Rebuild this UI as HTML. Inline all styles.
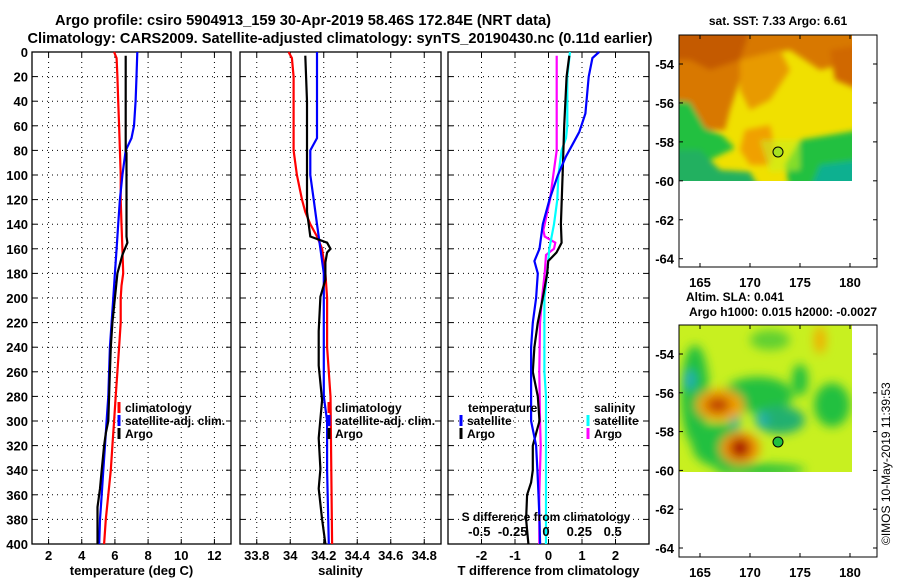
<!DOCTYPE html>
<html><head><meta charset="utf-8"><style>
body{margin:0;background:#fff}
svg{display:block;font-family:"Liberation Sans",sans-serif;font-weight:bold}
</style></head><body>
<svg id="fig" width="900" height="580" viewBox="0 0 900 580">
<defs>
<filter id="blur" x="-20%" y="-20%" width="140%" height="140%"><feGaussianBlur stdDeviation="5"/></filter>
<filter id="blur2" x="-20%" y="-20%" width="140%" height="140%"><feGaussianBlur stdDeviation="3"/></filter>
<clipPath id="c1"><rect x="679" y="35" width="173" height="146"/></clipPath>
<clipPath id="c2"><rect x="679" y="325" width="173" height="147"/></clipPath>
</defs>
<text x="303" y="25" text-anchor="middle" font-size="15" textLength="496" lengthAdjust="spacingAndGlyphs">Argo profile: csiro 5904913_159 30-Apr-2019 58.46S 172.84E (NRT data)</text>
<text x="340" y="43" text-anchor="middle" font-size="15" textLength="625" lengthAdjust="spacingAndGlyphs">Climatology: CARS2009. Satellite-adjusted climatology: synTS_20190430.nc (0.11d earlier)</text>
<g id="plots"></g>

<g>
<text x="778" y="25" text-anchor="middle" font-size="12">sat. SST: 7.33 Argo: 6.61</text>
<g clip-path="url(#c1)">
<rect x="679" y="35" width="173" height="146" fill="#f0e000"/>
<g filter="url(#blur2)">
<polygon points="670,30 860,30 860,60 820,70 790,50 760,55 740,80 730,110 725,130 700,130 690,110 670,100" fill="#d87800"/>
<polygon points="670,30 750,30 740,60 710,70 690,60 670,60" fill="#c45a00"/>
<polygon points="830,50 860,45 860,90 835,80" fill="#d06800"/>
<polygon points="740,60 780,50 790,70 770,100 750,110 740,90" fill="#e89a00"/>
<polygon points="670,100 690,102 705,128 722,135 735,148 710,160 700,190 670,190" fill="#20c040"/>
<polygon points="670,150 700,150 720,170 750,172 760,190 670,190" fill="#20b060"/>
<polygon points="800,140 830,135 860,130 860,190 790,190 785,165" fill="#20c040"/>
<polygon points="820,165 860,160 860,190 810,190" fill="#10b090"/>
<polygon points="745,130 770,125 775,150 770,165 750,165 740,150" fill="#f0a000"/>
<polygon points="760,140 800,140 800,170 770,172" fill="#c8f020" opacity="0.6"/>
</g></g>
<circle cx="778" cy="152" r="5" fill="#a8e020" stroke="#000" stroke-width="1"/>
<rect x="679" y="35" width="198" height="232" fill="none" stroke="#000"/>
<g id="map1axes"></g>
</g>

<g>
<text x="735" y="301" text-anchor="middle" font-size="12">Altim. SLA: 0.041</text>
<text x="783" y="316" text-anchor="middle" font-size="12">Argo h1000: 0.015 h2000: -0.0027</text>
<g clip-path="url(#c2)">
<rect x="679" y="325" width="173" height="147" fill="#c8f020"/>
<g filter="url(#blur)">
<ellipse cx="695" cy="395" rx="14" ry="50" fill="#20c040"/>
<ellipse cx="690" cy="380" rx="5" ry="10" fill="#20a8c0"/>
<ellipse cx="720" cy="445" rx="28" ry="22" fill="#20c040"/>
<ellipse cx="758" cy="395" rx="35" ry="18" fill="#20c040"/>
<ellipse cx="780" cy="420" rx="25" ry="14" fill="#20b070"/>
<ellipse cx="762" cy="420" rx="6" ry="8" fill="#20b0b0"/>
<ellipse cx="735" cy="420" rx="5" ry="8" fill="#20b0a0"/>
<ellipse cx="800" cy="380" rx="8" ry="16" fill="#20c040"/>
<ellipse cx="832" cy="405" rx="18" ry="22" fill="#20c040"/>
<ellipse cx="770" cy="340" rx="20" ry="10" fill="#60d030"/>
<ellipse cx="760" cy="470" rx="45" ry="6" fill="#20c040"/>
<ellipse cx="720" cy="405" rx="24" ry="16" fill="#f0a000"/>
<ellipse cx="718" cy="405" rx="12" ry="8" fill="#c04000"/>
<ellipse cx="740" cy="448" rx="20" ry="16" fill="#f09000"/>
<ellipse cx="740" cy="448" rx="10" ry="10" fill="#a81000"/>
<ellipse cx="820" cy="340" rx="6" ry="14" fill="#f0b000"/>
</g></g>
<circle cx="778" cy="442" r="5" fill="#20c040" stroke="#000" stroke-width="1"/>
<rect x="679" y="325" width="198" height="232" fill="none" stroke="#000"/>
<g id="map2axes"></g>
</g>
<text x="0" y="0" font-size="12" font-weight="normal" transform="translate(890,545) rotate(-90)">©IMOS 10-May-2019 11:39:53</text>
</svg>
<script>
const depthTicks = [0,20,40,60,80,100,120,140,160,180,200,220,240,260,280,300,320,340,360,380,400];
const tempTicks = [2,4,6,8,10,12];
const tClimDepth = [0,5,20,40,60,80,100,120,140,160,180,190,200,220,240,260,280,300,320,340,360,380,400];
const tClimVal = [5.95,6.1,6.15,6.2,6.25,6.3,6.35,6.35,6.4,6.45,6.5,6.4,6.35,6.35,6.25,6.15,6.05,5.95,5.85,5.75,5.6,5.45,5.35];
const tSatDepth = [0,20,40,60,70,80,100,120,140,160,180,200,220,240,260,280,300,320,340,360,380,400];
const tSatVal = [7.35,7.3,7.25,7.15,7.0,6.65,6.45,6.3,6.2,6.1,6.0,5.9,5.8,5.7,5.65,5.6,5.5,5.4,5.3,5.2,5.1,5.05];
const tArgoDepth = [3,80,82,150,155,160,165,180,200,220,240,260,280,300,310,320,340,355,370,400];
const tArgoVal = [6.65,6.65,6.7,6.7,6.75,6.6,6.45,6.15,6.0,5.85,5.75,5.7,5.65,5.6,5.45,5.35,5.2,5.1,4.95,4.95];
const salTicks = [33.8,34,34.2,34.4,34.6,34.8];
const sClimDepth = [0,5,20,80,100,120,130,140,150,160,180,200,240,280,400];
const sClimVal = [33.99,34.01,34.02,34.02,34.04,34.07,34.09,34.12,34.16,34.19,34.21,34.22,34.22,34.24,34.25];
const sSatDepth = [0,60,70,80,100,120,140,160,180,260,280,300,340,400];
const sSatVal = [34.16,34.16,34.16,34.12,34.12,34.14,34.16,34.18,34.2,34.2,34.2,34.22,34.22,34.23];
const sArgoDepth = [3,40,120,130,140,150,155,160,163,171,185,199,227,255,283,314,339,355,380,400];
const sArgoVal = [34.09,34.1,34.1,34.1,34.11,34.12,34.22,34.24,34.22,34.21,34.21,34.18,34.17,34.17,34.19,34.17,34.18,34.17,34.19,34.21];
const dTTicks = [-2,-1,0,1,2];
const dSTicks = [-0.5,-0.25,0,0.25,0.5];
const dTSatDepth = [0,5,20,50,65,75,85,100,120,140,160,170,180,200,220,240,300,320,340,360,380,400];
const dTSatVal = [1.51,1.31,1.2,1.1,0.92,0.72,0.52,0.28,0.03,-0.17,-0.27,-0.42,-0.32,-0.37,-0.47,-0.52,-0.52,-0.37,-0.33,-0.3,-0.27,-0.25];
const dTArgoDepth = [3,20,60,100,140,155,163,170,180,200,220,240,260,280,300,310,320,340,350,360,380,400];
const dTArgoVal = [0.62,0.54,0.47,0.42,0.37,0.39,0.24,-0.01,-0.04,-0.17,-0.32,-0.42,-0.47,-0.32,-0.27,-0.37,-0.47,-0.47,-0.52,-0.64,-0.67,-0.6];
const dSSatDepth = [0,20,60,70,80,100,120,140,160,180,200,260,280,400];
const dSSatVal = [0.18,0.16,0.16,0.15,0.117,0.093,0.085,0.06,0.025,0.008,-0.012,-0.012,0.0,0.0];
const dSArgoDepth = [3,60,80,100,120,140,145,150,155,160,165,180,200,220,260,300,320,360,400];
const dSArgoVal = [0.08,0.08,0.08,0.055,0.03,-0.01,-0.02,-0.01,0.07,0.06,0.0,-0.01,-0.03,-0.045,-0.05,-0.045,-0.04,-0.05,-0.05];
const lonTicks = [165,170,175,180];
const latTicks = [-54,-56,-58,-60,-62,-64];

const NS='http://www.w3.org/2000/svg';
const plots=document.getElementById('plots');
function mk(tag,attrs,parent){const e=document.createElementNS(NS,tag);for(const k in attrs)e.setAttribute(k,attrs[k]);(parent||plots).appendChild(e);return e;}
const Y0=52,Y1=544;
function yD(d){return Y0+(d/400)*(Y1-Y0);}
function lin(d0,d1,r0,r1){return v=>r0+(v-d0)/(d1-d0)*(r1-r0);}
const panels=[
 {x0:32,x1:231,sx:lin(1,13,32,231),ticks:tempTicks,label:'temperature (deg C)',name:'temperature'},
 {x0:240,x1:441,sx:lin(33.7,34.9,240,441),ticks:salTicks,label:'salinity',name:'salinity'},
 {x0:448,x1:649,sx:lin(-3,3,448,649),ticks:dTTicks,label:'T difference from climatology',name:'difference'}
];
panels.forEach((p,i)=>{
 const g=mk('g',{});
 
 
 depthTicks.forEach(d=>{
  if(d>0&&d<400){const l=mk('line',{x1:p.x0,x2:p.x1,y1:yD(d),y2:yD(d),stroke:'#000','stroke-dasharray':'1,4','stroke-width':1},g);
  }
  mk('line',{x1:p.x0,x2:p.x0+5,y1:yD(d),y2:yD(d),stroke:'#000'},g);
  mk('line',{x1:p.x1-5,x2:p.x1,y1:yD(d),y2:yD(d),stroke:'#000'},g);
  if(i===0){const t=mk('text',{x:28,y:yD(d)+5,'text-anchor':'end','font-size':13},g);t.textContent=d;
   }
 });
 p.ticks.forEach(v=>{
  const x=p.sx(v);
  const l=mk('line',{x1:x,x2:x,y1:Y0,y2:Y1,stroke:'#000','stroke-dasharray':'1,4'},g);
  
  mk('line',{x1:x,x2:x,y1:Y1-5,y2:Y1,stroke:'#000'},g);
  mk('line',{x1:x,x2:x,y1:Y0,y2:Y0+5,stroke:'#000'},g);
  const t=mk('text',{x:x,y:Y1+16,'text-anchor':'middle','font-size':13},g);t.textContent=v;
  
 });
 const r=mk('rect',{x:p.x0,y:Y0,width:p.x1-p.x0,height:Y1-Y0,fill:'none',stroke:'#000','stroke-width':1.3},g);
 
 const lab=mk('text',{x:(p.x0+p.x1)/2,y:575,'text-anchor':'middle','font-size':13},g);lab.textContent=p.label;
 
});
function series(depths,vals,sx,color,name){
 const pts=depths.map((d,i)=>sx(vals[i]).toFixed(1)+','+yD(d).toFixed(1)).join(' ');
 const pl=mk('polyline',{points:pts,fill:'none',stroke:color,'stroke-width':2.2,'stroke-linejoin':'miter'});
 
 
}
const sT=panels[0].sx,sS=panels[1].sx,sD=panels[2].sx,sDS=lin(-0.75,0.75,446,646);
series(tClimDepth,tClimVal,sT,'#f00','temp-climatology-line');
series(tSatDepth,tSatVal,sT,'#00f','temp-satellite-line');
series(tArgoDepth,tArgoVal,sT,'#000','temp-argo-line');
series(sClimDepth,sClimVal,sS,'#f00','sal-climatology-line');
series(sSatDepth,sSatVal,sS,'#00f','sal-satellite-line');
series(sArgoDepth,sArgoVal,sS,'#000','sal-argo-line');
series(dSArgoDepth,dSArgoVal,sDS,'#f0f','sdiff-argo-line');
series(dSSatDepth,dSSatVal,sDS,'#0ff','sdiff-satellite-line');
series(dTArgoDepth,dTArgoVal,sD,'#000','tdiff-argo-line');
series(dTSatDepth,dTSatVal,sD,'#00f','tdiff-satellite-line');
dSTicks.forEach(v=>{const t=mk('text',{x:sDS(v),y:536,'text-anchor':'middle','font-size':13});t.textContent=v;
 });
{const t=mk('text',{x:546,y:521,'text-anchor':'middle','font-size':12});t.textContent='S difference from climatology';
 }
function legend(x,y,color,label,name){
 const b=mk('line',{x1:x,x2:x,y1:y-10,y2:y+1,stroke:color,'stroke-width':3});
 
 const t=mk('text',{x:x+6,y:y,'font-size':12});t.textContent=label;
 
}
legend(119,412,'#f00','climatology','legend-climatology');
legend(119,425,'#00f','satellite-adj. clim.','legend-satellite-adj');
legend(119,438,'#000','Argo','legend-argo');
legend(329,412,'#f00','climatology','legend-sal-climatology');
legend(329,425,'#00f','satellite-adj. clim.','legend-sal-satellite-adj');
legend(329,438,'#000','Argo','legend-sal-argo');
{const t=mk('text',{x:468,y:412,'font-size':12});t.textContent='temperature';}
{const t=mk('text',{x:594,y:412,'font-size':12});t.textContent='salinity';}
legend(461,425,'#00f','satellite','legend-tdiff-satellite');
legend(461,438,'#000','Argo','legend-tdiff-argo');
legend(588,425,'#0ff','satellite','legend-sdiff-satellite');
legend(588,438,'#f0f','Argo','legend-sdiff-argo');
function mapAxes(gid,top,bot,lat54y,lat64y){
 const g=document.getElementById(gid);
 const lx=lin(165,180,700,850),ly=lin(-54,-64,lat54y,lat64y);
 lonTicks.forEach(v=>{const x=lx(v);mk('line',{x1:x,x2:x,y1:bot,y2:bot-4,stroke:'#000'},g);mk('line',{x1:x,x2:x,y1:top,y2:top+4,stroke:'#000'},g);
  const t=mk('text',{x:x,y:bot+20,'text-anchor':'middle','font-size':13},g);t.textContent=v;
  });
 latTicks.forEach(v=>{const y=ly(v);mk('line',{x1:679,x2:683,y1:y,y2:y,stroke:'#000'},g);mk('line',{x1:873,x2:877,y1:y,y2:y,stroke:'#000'},g);
  const t=mk('text',{x:674,y:y+5,'text-anchor':'end','font-size':13},g);t.textContent=v;
  });
}
mapAxes('map1axes',35,267,64,258.7);
mapAxes('map2axes',325,557,354,548);
</script>
</body></html>
